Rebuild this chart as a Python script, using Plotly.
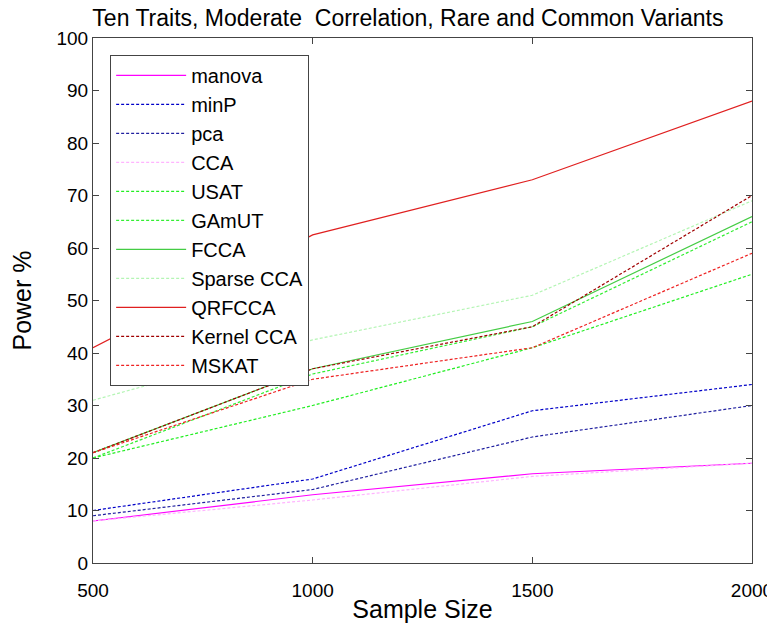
import plotly.graph_objects as go

sample_size = [500, 1000, 1500, 2000]

manova = [8, 13, 17, 19]
minp = [10, 16, 29, 34]
pca = [9, 14, 24, 30]
cca = [8, 12, 16.5, 19]
usat = [20, 30, 41, 55]
gamut = [20, 36, 45, 65]
fcca = [21, 37, 46, 66]
sparse_cca = [31, 42.5, 51, 69]
qrfcca = [41, 62.5, 73, 88]
kernel_cca = [21, 37, 45, 70]
mskat = [21, 35, 41, 59]

series = [
    ("manova", manova, "#ff00ff", "solid"),
    ("minP", minp, "#0000c8", "3px,2px"),
    ("pca", pca, "#2020a0", "3px,2px"),
    ("CCA", cca, "#ffb4ff", "3px,2px"),
    ("USAT", usat, "#22ee22", "3px,2px"),
    ("GAmUT", gamut, "#33ee33", "3px,2px"),
    ("FCCA", fcca, "#44cc44", "solid"),
    ("Sparse CCA", sparse_cca, "#b4f5b4", "3px,2px"),
    ("QRFCCA", qrfcca, "#e02020", "solid"),
    ("Kernel CCA", kernel_cca, "#a00000", "3px,2px"),
    ("MSKAT", mskat, "#ee2222", "3px,2px"),
]

fig = go.Figure()
for name, vals, color, dash in series:
    fig.add_trace(go.Scatter(x=sample_size, y=vals, name=name, mode="lines",
                             line=dict(color=color, width=1.2, dash=dash)))

axis_style = dict(showline=True, linecolor="#444", linewidth=1, mirror="allticks",
                  ticks="inside", ticklen=6, tickcolor="#444", showgrid=False,
                  zeroline=False, tickfont=dict(size=19, color="black"),
                  automargin=False)

fig.update_xaxes(range=[500, 2000], tickvals=[500, 1000, 1500, 2000],
                 ticklabelstandoff=10,
                 title=dict(text="Sample Size", font=dict(size=25, color="black"), standoff=0),
                 **axis_style)
fig.update_yaxes(range=[0, 100], dtick=10,
                 title=dict(text="Power %", font=dict(size=25, color="black"), standoff=20),
                 **axis_style)

fig.update_layout(
    width=775, height=623,
    margin=dict(l=85, r=31, t=30, b=68),
    paper_bgcolor="white", plot_bgcolor="white",
    font=dict(family="Liberation Sans, Arial, sans-serif", color="black"),
    title=dict(text="Ten Traits, Moderate  Correlation, Rare and Common Variants",
               x=0.516, xanchor="center", y=1.0, yanchor="top", pad=dict(t=2),
               font=dict(size=23, color="black")),
    legend=dict(x=0.026, y=0.968, xanchor="left", yanchor="top",
                bordercolor="#444", borderwidth=1, bgcolor="white",
                font=dict(size=20, color="black"), tracegroupgap=0,
                itemwidth=70),
    showlegend=True,
)

fig.write_html("out.html")
